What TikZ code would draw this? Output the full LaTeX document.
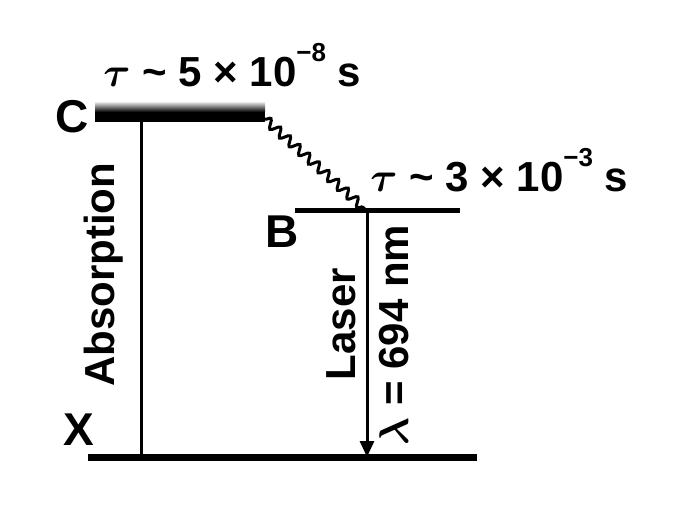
\documentclass[tikz,border=0pt]{standalone}
\usepackage{bm}
\usepackage{fontspec}
\setmainfont{Liberation Sans}
\usetikzlibrary{decorations.pathmorphing,arrows.meta}

\begin{document}
\begin{tikzpicture}[x=0.5pt,y=-0.5pt,
  lbl/.style={font=\fontsize{21}{24}\selectfont\bfseries, inner sep=0pt},
  levelline/.style={line width=3pt},
  trans/.style={line width=1.5pt}]
\useasboundingbox (0,0) rectangle (676,508);
% energy levels
\shade[top color=gray!35, bottom color=black] (95,103) rectangle (265,112);
\fill[black] (95,112) rectangle (265,122);
\coordinate (cend) at (265,119);
\coordinate (cabs) at (141,122);
\coordinate (bl) at (295,211);
\coordinate (br) at (460,211);
\coordinate (bmid) at (367,211);
\coordinate (xl) at (88,457);
\coordinate (xr) at (477,457);
\coordinate (xabs) at (141,457);
\coordinate (xlas) at (367,457);
\draw[levelline, line width=2.5pt] (bl) -- (br);
\draw[levelline, line width=3.5pt] (xl) -- (xr);
%
\node [lbl, font=\fontsize{23}{24}\selectfont\bfseries] at (72,117) (C) {C};
\node [lbl, font=\fontsize{23}{24}\selectfont\bfseries] at (282,232) (B) {B};
\node [lbl, font=\fontsize{23}{24}\selectfont\bfseries] at (79,430) (X) {X};
\node [lbl, anchor=base west] at (103,87) (tauc) {$\bm{\tau}$ \textasciitilde{} 5 × 10\raisebox{0.6em}{\fontsize{13}{13}\selectfont −8} s};
\node [lbl, anchor=base west] at (370,192) (taub) {$\bm{\tau}$ \textasciitilde{} 3 × 10\raisebox{0.6em}{\fontsize{13}{13}\selectfont −3} s};
\node [lbl, rotate=90] at (104,275) (abs) {Absorption};
\node [lbl, rotate=90] at (341,324) (laser) {Laser};
\node [lbl, rotate=90] at (394,335) (lambda) {$\bm{\lambda}$ = 694 nm};
%
\draw[trans] (cabs) -- (xabs);
\draw[trans, decorate, decoration={snake, amplitude=2.2pt, segment length=6.5pt}] (cend) -- (bmid);
\draw[trans, -{Triangle[width=7pt,length=8pt]}] (bmid) -- (xlas);
\end{tikzpicture}
\end{document}
